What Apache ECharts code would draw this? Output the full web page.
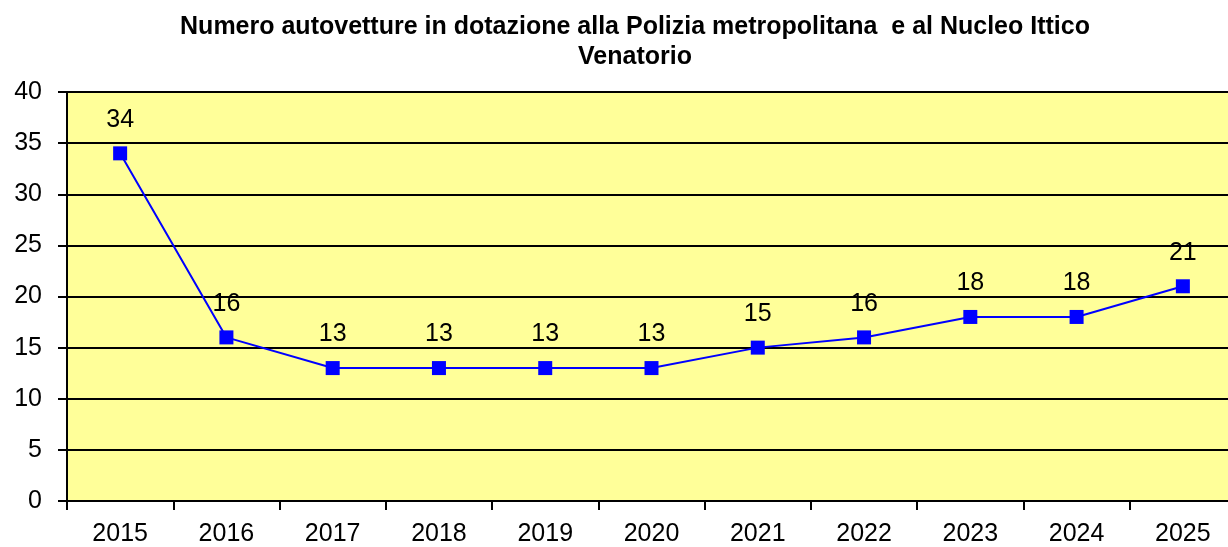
<!DOCTYPE html>
<html>
<head>
<meta charset="utf-8">
<script src="https://cdn.jsdelivr.net/npm/echarts@6/dist/echarts.min.js"></script>
<style>
  html, body { margin: 0; padding: 0; background: #ffffff; }
  #chart { width: 1228px; height: 547px; }
</style>
</head>
<body>
<div id="chart"></div>
<script>
// Anni e numero di autovetture in dotazione
const years = ['2015', '2016', '2017', '2018', '2019', '2020', '2021', '2022', '2023', '2024', '2025'];
const vehicles = [34, 16, 13, 13, 13, 13, 15, 16, 18, 18, 21];

const FONT = 'Liberation Sans, Arial, sans-serif';

const chart = echarts.init(document.getElementById('chart'));
chart.setOption({
  backgroundColor: '#ffffff',
  animation: false,
  title: {
    text: 'Numero autovetture in dotazione alla Polizia metropolitana  e al Nucleo Ittico\nVenatorio',
    left: 630,
    textAlign: 'center',
    top: 7,
    textStyle: {
      fontFamily: FONT,
      fontWeight: 'bold',
      fontSize: 25,
      lineHeight: 30,
      color: '#000000'
    }
  },
  grid: {
    left: 67,
    right: -8,
    top: 92,
    bottom: 46,
    outerBoundsMode: 'none',
    show: true,
    backgroundColor: '#FFFF99',
    borderWidth: 0
  },
  xAxis: {
    type: 'category',
    data: years,
    boundaryGap: true,
    axisLine: { show: true, lineStyle: { color: '#000000', width: 2 } },
    axisTick: { show: true, length: 9, lineStyle: { color: '#000000', width: 2 } },
    axisLabel: {
      color: '#000000',
      fontFamily: FONT,
      fontSize: 25,
      margin: 21
    },
    splitLine: { show: false }
  },
  yAxis: {
    type: 'value',
    min: 0,
    max: 40,
    interval: 5,
    axisLine: { show: true, lineStyle: { color: '#000000', width: 2 } },
    axisTick: { show: true, length: 9, lineStyle: { color: '#000000', width: 2 } },
    axisLabel: {
      color: '#000000',
      fontFamily: FONT,
      fontSize: 25,
      margin: 25
    },
    splitLine: { show: true, lineStyle: { color: '#000000', width: 2 } }
  },
  series: [{
    type: 'line',
    data: vehicles,
    symbol: 'rect',
    symbolSize: 14,
    lineStyle: { color: '#0000FF', width: 2 },
    itemStyle: { color: '#0000FF' },
    label: {
      show: true,
      position: 'top',
      distance: 14,
      color: '#000000',
      fontFamily: FONT,
      fontSize: 25
    }
  }]
});
</script>
</body>
</html>
